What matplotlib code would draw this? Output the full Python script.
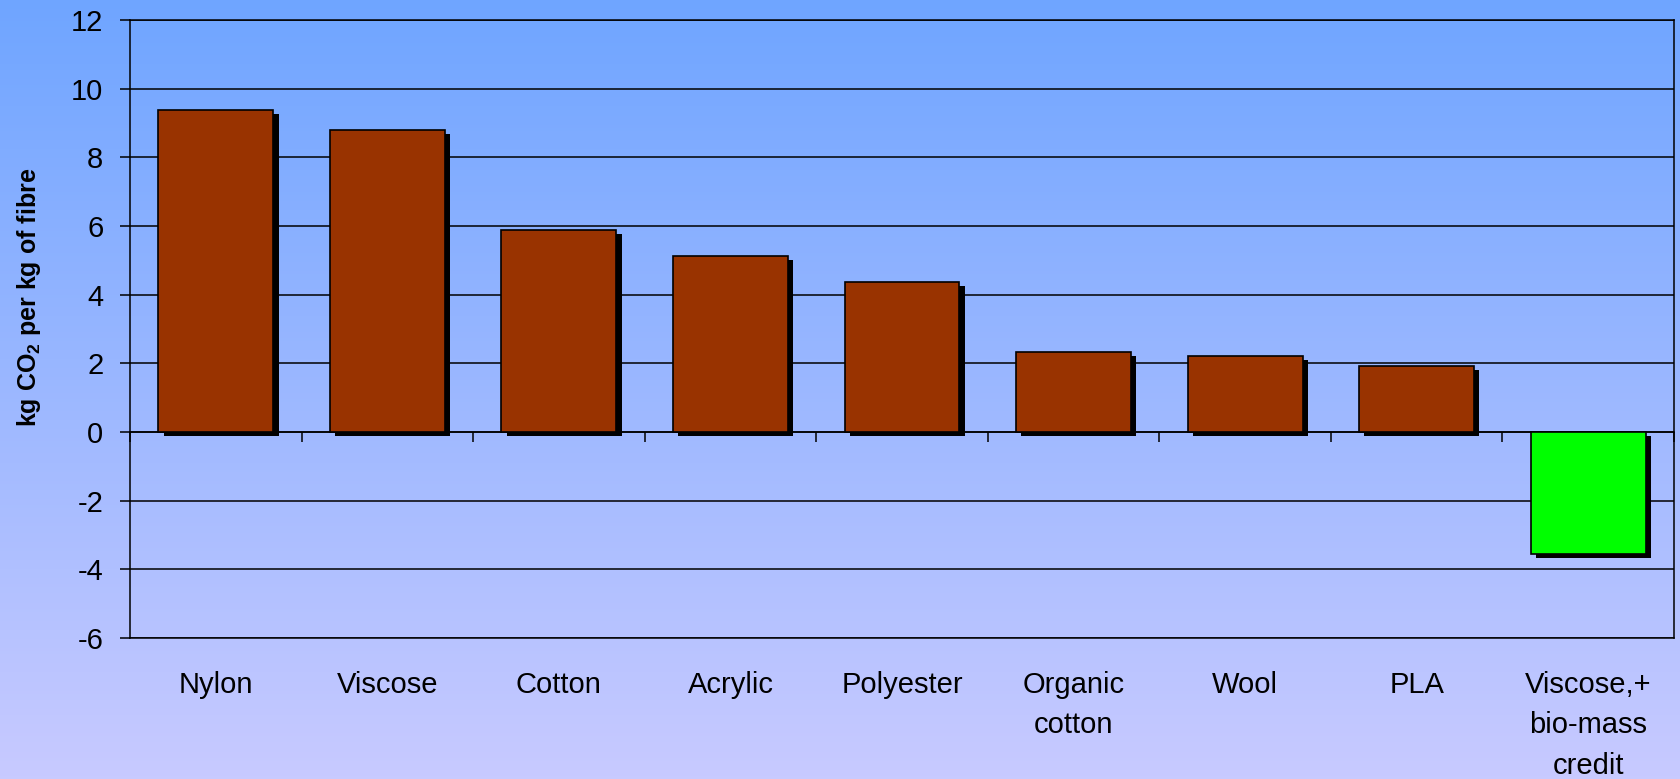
import numpy as np
import matplotlib
matplotlib.use("Agg")
import matplotlib.pyplot as plt
import matplotlib.patheffects as pe
from matplotlib.colors import LinearSegmentedColormap

plt.rcParams['font.family'] = ['Liberation Sans', 'DejaVu Sans']
plt.rcParams['mathtext.fontset'] = 'custom'
plt.rcParams['mathtext.rm'] = 'Liberation Sans:bold'
plt.rcParams['mathtext.bf'] = 'Liberation Sans:bold'
plt.rcParams['axes.unicode_minus'] = False

# data
fibres = ['Nylon', 'Viscose', 'Cotton', 'Acrylic', 'Polyester',
          'Organic\ncotton', 'Wool', 'PLA', 'Viscose,+\nbio-mass\ncredit']
co2 = [9.38, 8.80, 5.88, 5.13, 4.38, 2.34, 2.22, 1.92, -3.55]
bar_colors = ['#993300'] * 8 + ['#00FF00']
y_ticks = [-6, -4, -2, 0, 2, 4, 6, 8, 10, 12]

fig = plt.figure(figsize=(16.81, 7.79), dpi=100)

# gradient background over the whole figure
bg = fig.add_axes([0, 0, 1, 1], zorder=-10)
cmap = LinearSegmentedColormap.from_list('bg', ['#6FA5FF', '#C8CAFF'])
bg.imshow(np.linspace(0, 1, 256).reshape(-1, 1), aspect='auto', cmap=cmap,
          extent=[0, 1, 0, 1])
bg.axis('off')

ax = fig.add_axes([130 / 1681, 1 - 638 / 779, 1544 / 1681, 618 / 779])
ax.set_facecolor('none')

x = np.arange(len(fibres))
shadow = [pe.SimplePatchShadow(offset=(3.8, -2.9), shadow_rgbFace='black', alpha=1.0),
          pe.Normal()]
bars = ax.bar(x, co2, width=0.67, color=bar_colors, edgecolor='black', linewidth=1.2,
              zorder=3)
for b in bars:
    b.set_path_effects(shadow)

ax.set_xlim(-0.5, len(fibres) - 0.5)
ax.set_ylim(y_ticks[0], y_ticks[-1])
ax.set_yticks(y_ticks)
ax.yaxis.grid(True, color='black', linewidth=1.1)
ax.set_axisbelow(True)
for s in ax.spines.values():
    s.set_color('black')
    s.set_linewidth(1.1)

ax.tick_params(axis='y', direction='out', length=7.2, width=1.1, pad=12, labelsize=21)
ax.set_xticks(x)
ax.set_xticklabels(fibres, fontsize=21, linespacing=1.55)
ax.tick_params(axis='x', length=0, pad=24)

# category axis drawn through zero with ticks between categories
zero_loc = (0 - y_ticks[0]) / (y_ticks[-1] - y_ticks[0])
sec = ax.secondary_xaxis(zero_loc)
sec.set_xticks(np.arange(len(fibres) + 1) - 0.5)
sec.set_xticklabels([])
sec.tick_params(direction='out', length=7.2, width=1.1)
sec.spines['bottom'].set_linewidth(1.1)
sec.spines['bottom'].set_color('black')

fig.text(29 / 1681, 1 - 297 / 779, r'kg CO$_\mathbf{2}$ per kg of fibre', rotation=90,
         ha='center', va='center', fontsize=18, fontweight='bold')

plt.savefig('out.png', dpi=100)
